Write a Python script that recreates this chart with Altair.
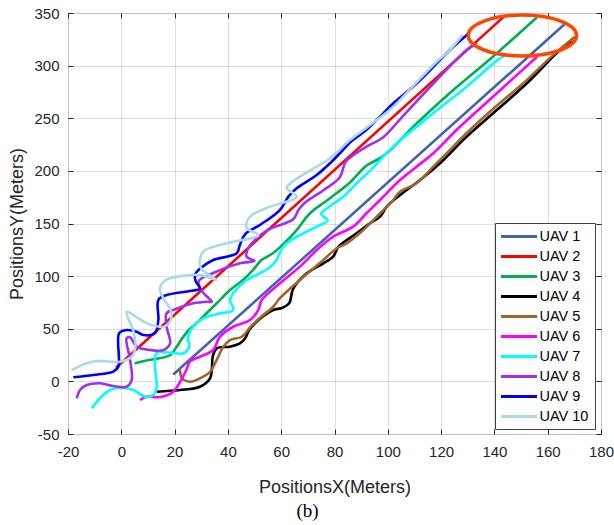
import altair as alt
import pandas as pd

UAV_NAMES = ["UAV 1", "UAV 2", "UAV 3", "UAV 4", "UAV 5", "UAV 6", "UAV 7", "UAV 8", "UAV 9", "UAV 10"]
UAV_COLORS = ["#4363AC", "#FF0000", "#00B050", "#000000", "#A0642D",
              "#FF00FF", "#00FFFF", "#A030F0", "#0000FF", "#ADD8E6"]

X_TICKS = [-20, 0, 20, 40, 60, 80, 100, 120, 140, 160, 180]
Y_TICKS = [-50, 0, 50, 100, 150, 200, 250, 300, 350]

uav1_x = [19.5, 166.2]
uav1_y = [6.5, 339]

uav2_x = [-2, 144]
uav2_y = [13, 347.5]

uav3_x = [5, 9, 13.3, 18.3, 20.8, 23.3, 25.8, 29, 32, 35.8, 40.8, 45, 49.5, 52.5, 57, 61, 65.8,
          70.8, 78.3, 85.8, 92, 98.3, 110.8, 123.3, 138.3, 156]
uav3_y = [17, 19.5, 21.6, 24.8, 33, 42.5, 50, 57, 64.7, 74.2, 86.8, 95, 106, 115, 122, 131, 143.8,
          159.7, 174, 189, 205, 214, 245, 274, 306, 346]

uav4_x = [13.3, 22, 29.5, 33.3, 34, 34.3, 35.8, 40.8, 44.5, 46.5, 48, 50.5, 53.5, 57, 60.5, 63, 64.5,
          69.6, 75.8, 79.5, 81.5, 88.3, 93.3, 97.1, 99.6, 104.6, 112.1, 119.6, 129.6, 140.9, 152.1, 164.6, 169]
uav4_y = [-9.8, -8.2, -5.1, 2.9, 12, 23.4, 31.4, 33, 36.1, 41, 49, 56, 62.5, 67.8, 70, 74.2, 88,
          102.7, 112.2, 118.5, 128, 140.7, 150.2, 156.5, 166, 177, 191.3, 207.2, 232.5, 257.8, 283, 314.8, 323]

uav5_x = [22, 22.8, 25.8, 29.5, 33.3, 35.8, 38.3, 40.8, 45.2, 48.5, 52.5, 57, 59.5, 67, 75.8, 80.8,
          84.6, 90.8, 97.1, 102, 104.6, 110.8, 117.1, 123.3, 130.8, 140, 152, 162, 170.2]
uav5_y = [11, 3, -0.3, 2.9, 9.1, 20.4, 33, 39.3, 42.4, 51.9, 61.4, 70.9, 79, 96.3, 115.3, 126.4,
          131.2, 143.8, 159.7, 172.3, 180.2, 188.2, 204, 220, 238.8, 260, 286, 310, 327.5]

uav6_x = [7, 9.5, 14.5, 19.5, 22.5, 24.5, 25.8, 29.5, 34.5, 37, 42, 48.3, 51.4, 52.7, 59.5, 67, 73.3,
          79.5, 87, 92, 97.1, 104.6, 110.8, 117.1, 125.8, 140.9, 156]
uav6_y = [-17.7, -14.6, -15, -9.8, 1.4, 11.3, 19, 23.4, 29.8, 42.4, 51.9, 58.3, 67.8, 77.3, 93.2, 109,
          124.8, 137.5, 147, 159.7, 172.3, 191.3, 204, 216.7, 238.8, 273.7, 308.5]

uav7_x = [-11, -8, -4.2, -0.5, 4.5, 9, 12, 13.3, 13, 12.6, 13.3, 18.3, 23.3, 25.5, 25, 27, 31, 36, 42,
          40.8, 42, 47, 52, 56, 58.3, 60, 62, 68.3, 73.3, 77.5, 75, 78, 83.3, 89.6, 93.3, 102, 117,
          129.6, 141, 144]
uav7_y = [-25.6, -16, -8.2, -6, -8.2, -14.6, -13, -5, 5, 17.2, 27, 27.3, 26.7, 33, 42, 52, 60, 64, 68,
          77.3, 83.7, 96.3, 102.7, 109, 115.3, 125, 131.2, 140.7, 147, 153, 159, 166, 175.5, 191.3, 200,
          223, 254.7, 280, 305, 310]

uav8_x = [-16.7, -15.5, -13, -8, -3, 2, 3.9, 3.3, 2, 3.3, 5.8, 10.8, 15.8, 18.3, 17, 17, 20.2, 27,
          32.6, 34, 30.5, 29, 34.5, 44.5, 50, 47, 47.5, 50, 55, 64.5, 66.5, 69, 76, 82, 84, 86, 92,
          98.3, 104.6, 117.1, 129.6, 133.4]
uav8_y = [-16, -8.2, -3.5, -1.8, -4.4, -5, 1.4, 20.4, 40.9, 41.9, 33, 29.8, 29.8, 36.1, 52, 64.7,
          68.5, 74.2, 75.7, 75.7, 85, 95, 103, 112.2, 114.5, 118.5, 126, 134, 144, 154, 163, 170,
          181.8, 194, 208, 213, 223, 232, 249, 283, 314.8, 321]

uav9_x = [-18, -10.5, -3, -1.1, -0.8, 2, 5.8, 8.3, 12.6, 13.9, 13.9, 17, 27, 29.5, 27.8, 27.8, 30.3,
          34.5, 43.3, 44.5, 46.5, 52, 59.5, 62.7, 65.8, 73.3, 78.3, 82, 85.8, 92, 98.3, 102, 110.8,
          123.3, 130.5]
uav9_y = [3.9, 6.1, 9.3, 14, 45.7, 48.8, 47.2, 44, 45.7, 58.3, 77.3, 82, 86.3, 88, 96, 102, 108.6,
          115.3, 121.7, 129.6, 140, 148.6, 162.8, 175.5, 183.4, 196, 207.2, 216.7, 227, 239, 254.7,
          264, 283, 314.8, 331]

uav10_x = [-18.6, -13, -9.2, -4.2, -0.5, 3.9, 5.3, 4.5, 2, 7, 12, 16, 18.5, 18.5, 16, 14.5, 16.5, 21,
           29.5, 35.5, 30, 29.5, 31, 39.5, 51.4, 47, 48.3, 55.8, 65.8, 62, 67, 78.3, 85.8, 92, 100.8,
           110, 118, 123.3, 128]
uav10_y = [10.8, 17.2, 19.4, 18.7, 18.7, 23.4, 33, 48, 66, 59, 53, 52, 58, 68, 78, 88, 96, 99.5,
           101, 96.5, 107, 115, 124, 131.2, 139, 146, 156.5, 166, 175.5, 184, 194.5, 212, 229.3, 241,
           258, 282, 303, 315, 329]

ellipse_x = [150.5]
ellipse_y = [328.6]

series = [
    (uav1_x, uav1_y), (uav2_x, uav2_y), (uav3_x, uav3_y), (uav4_x, uav4_y), (uav5_x, uav5_y),
    (uav6_x, uav6_y), (uav7_x, uav7_y), (uav8_x, uav8_y), (uav9_x, uav9_y), (uav10_x, uav10_y),
]
rows = []
for name, (xs, ys) in zip(UAV_NAMES, series):
    for i, (xv, yv) in enumerate(zip(xs, ys)):
        rows.append({"uav": name, "seq": i, "x": xv, "y": yv})
df = pd.DataFrame(rows)
ell_df = pd.DataFrame({"x": ellipse_x, "y": ellipse_y})

FONT = "Liberation Sans"
AX = "#262626"
xscale = alt.Scale(domain=[-20, 180], nice=False, zero=False)
yscale = alt.Scale(domain=[-50, 350], nice=False, zero=False)

lines = alt.Chart(df).mark_line(strokeWidth=2.6, interpolate="catmull-rom", clip=True).encode(
    x=alt.X("x:Q", scale=xscale,
            axis=alt.Axis(orient="bottom", title="PositionsX(Meters)", values=X_TICKS,
                          labelExpr="'' + datum.value", offset=-5, tickSize=5, domain=False,
                          grid=True, gridColor=AX, gridOpacity=0.15, tickColor=AX,
                          labelFont=FONT, labelFontSize=15, labelColor=AX, labelPadding=10,
                          labelFlush=False,
                          titleFont=FONT, titleFontSize=18, titleFontWeight="normal",
                          titleColor=AX, titlePadding=19)),
    y=alt.Y("y:Q", scale=yscale,
            axis=alt.Axis(orient="left", title="PositionsY(Meters)", values=Y_TICKS,
                          labelExpr="'' + datum.value", offset=-5, tickSize=5, domain=False,
                          grid=True, gridColor=AX, gridOpacity=0.15, tickColor=AX,
                          labelFont=FONT, labelFontSize=15, labelColor=AX, labelPadding=9,
                          labelFlush=False,
                          titleFont=FONT, titleFontSize=18, titleFontWeight="normal",
                          titleColor=AX, titlePadding=7)),
    color=alt.Color("uav:N", scale=alt.Scale(domain=UAV_NAMES, range=UAV_COLORS),
                    legend=alt.Legend(title=None, orient="none", legendX=427, legendY=210,
                                      symbolType="M-3,0H3", symbolSize=144, symbolStrokeWidth=3,
                                      symbolOffset=10.5, labelOffset=13,
                                      labelFont=FONT, labelFontSize=14.5, labelColor="#000000",
                                      rowPadding=5, padding=6, strokeColor="#404040",
                                      fillColor="white", cornerRadius=0)),
    order=alt.Order("seq:Q"),
)

ellipse = alt.Chart(ell_df).mark_point(
    shape="M -1 0 A 1 0.378 0 1 1 1 0 A 1 0.378 0 1 1 -1 0 Z",
    size=11751, filled=False, strokeWidth=3.5, color="#FF4500", opacity=1,
).encode(
    x=alt.X("x:Q", scale=xscale,
            axis=alt.Axis(orient="top", title=None, values=X_TICKS, labels=False, offset=-5,
                          tickSize=5, domain=False, grid=False, tickColor=AX)),
    y=alt.Y("y:Q", scale=yscale,
            axis=alt.Axis(orient="right", title=None, values=Y_TICKS, labels=False, offset=-5,
                          tickSize=5, domain=False, grid=False, tickColor=AX)),
)

chart = alt.layer(lines, ellipse).resolve_axis(x="independent", y="independent").properties(
    width=533, height=421,
    autosize=alt.AutoSizeParams(type="none"),
    padding={"left": 68, "top": 13, "right": 13, "bottom": 91},
    title=alt.TitleParams("(b)", orient="bottom", font="Liberation Serif", fontSize=19,
                          fontWeight="normal", color="#000000", offset=6, anchor="middle",
                          dx=-27),
).configure_view(stroke=AX, strokeWidth=1).configure(background="white")

chart.save("out.html", embed_options={"renderer": "svg", "actions": False})
